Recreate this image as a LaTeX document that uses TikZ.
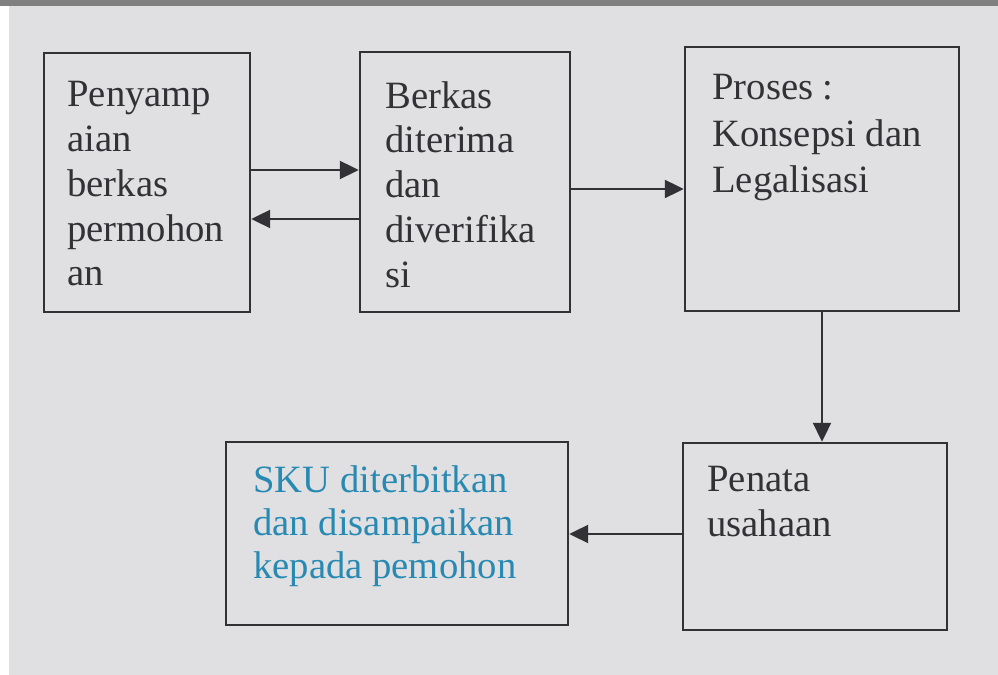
\documentclass[tikz,border=0pt]{standalone}
\usepackage{fontspec}
\setmainfont{Liberation Serif}
\usetikzlibrary{arrows.meta,fit}
\definecolor{paper}{RGB}{224,224,227}
\definecolor{ink}{RGB}{50,50,54}
\definecolor{skublue}{RGB}{40,138,178}

\begin{document}
\begin{tikzpicture}[x=0.02cm, y=-0.02cm,
    box/.style={draw=ink, line width=1.4pt, inner sep=0pt},
    txt/.style={anchor=north west, inner sep=0pt, align=left, text=ink,
        font=\fontsize{22}{25.5}\selectfont},
    arr/.style={draw=ink, line width=1.3pt, -{Triangle[length=0.38cm, width=0.36cm]}}]
    % Paper background
    \useasboundingbox (0,0) rectangle (998,675);
    \fill[paper] (0,0) rectangle (998,675);
    \fill[white] (0,0) rectangle (9,675);
    \fill[gray] (0,0) rectangle (998,6);

    % Draw the boxes
    \node[box, fit={(44,53) (250,312)}] (penyampaian) {};
    \node[box, fit={(360,52) (570,312)}] (berkas) {};
    \node[box, fit={(685,47) (959,311)}] (proses) {};
    \node[box, fit={(683,443) (947,630)}] (penata) {};
    \node[box, fit={(226,442) (568,625)}] (sku) {};

    % Place the texts inside the boxes
    \node[txt] (penyampaiantext) at (67,81) {Penyamp\\aian\\berkas\\permohon\\an};
    \node[txt] (berkastext) at (385,81) {Berkas\\diterima\\dan\\diverifika\\si};
    \node[txt, font=\fontsize{22}{26.5}\selectfont] (prosestext) at (712,74) {Proses :\\Konsepsi dan\\Legalisasi};
    \node[txt] (penatatext) at (707,466) {Penata\\usahaan};
    \node[txt, text=skublue, font=\fontsize{22}{24.5}\selectfont] (skutext) at (253,465) {SKU diterbitkan\\dan disampaikan\\kepada pemohon};

    % Connect the boxes
    \draw[arr] (penyampaian.east |- 0,170) -- (berkas.west |- 0,170);
    \draw[arr] (berkas.west |- 0,219) -- (penyampaian.east |- 0,219);
    \draw[arr] (berkas.east |- 0,189) -- (proses.west |- 0,189);
    \draw[arr] (proses.south) -- (proses.south |- penata.north);
    \draw[arr] (penata.west |- 0,534) -- (sku.east |- 0,534);
\end{tikzpicture}
\end{document}
